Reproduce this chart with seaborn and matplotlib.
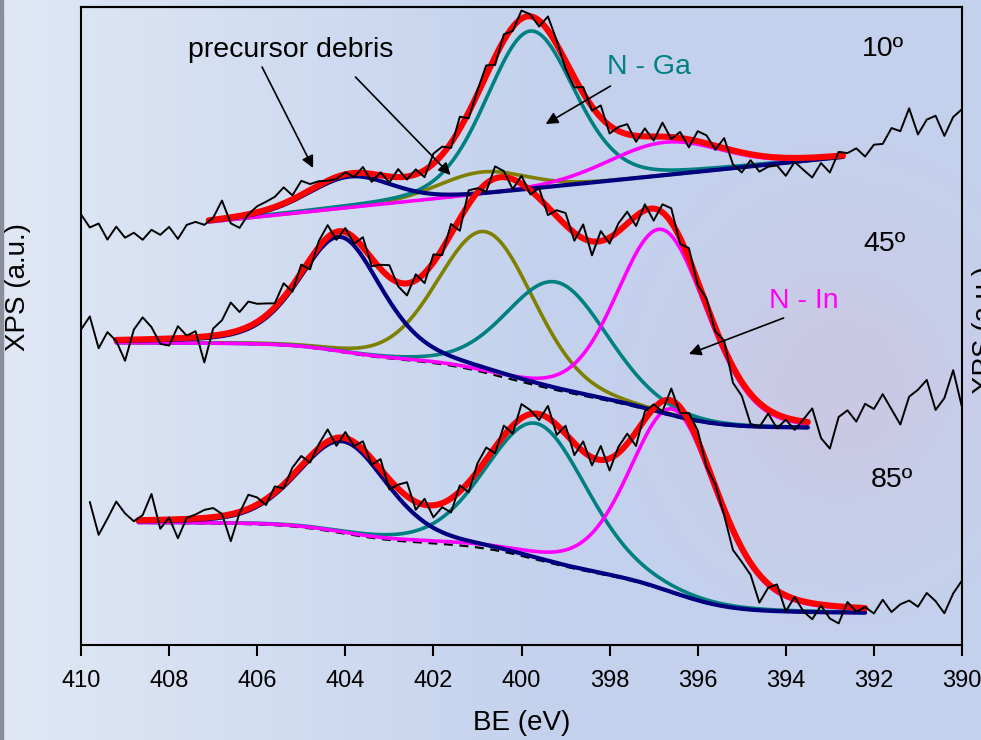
import numpy as np
import matplotlib
matplotlib.use("Agg")
import matplotlib.pyplot as plt
import seaborn as sns

# ---------------- data (y in plot units: pixels above the x axis) ----------------
angle_labels = ["10º", "45º", "85º"]

# fit windows (low-BE end, high-BE end) and background end values (right, left)
fit_lo = [392.7, 393.5, 392.2]
fit_hi = [407.1, 409.2, 408.7]
bg_right = [488, 217, 32]
bg_left = [423, 302, 122]
bg_kind = ["linear", "shirley", "shirley"]

# fitted components: precursor debris (navy), precursor debris (olive), N-Ga (teal), N-In (magenta)
comp_names_10 = ["debris1", "debris2", "NGa", "NIn"]
centers_10 = [403.9, 400.9, 399.8, 396.75]
heights_10 = [31, 22, 158, 33]
fwhm_10 = [2.24, 2.35, 2.35, 3.0]
eta_10 = [0.2, 0.1, 0.2, 0.1]

comp_names_45 = ["debris1", "debris2", "NGa", "NIn"]
centers_45 = [404.1, 400.8, 399.2, 396.8]
heights_45 = [115, 141, 108, 184]
fwhm_45 = [2.2, 2.55, 2.7, 2.4]
eta_45 = [0.4, 0.15, 0.15, 0.15]

comp_names_85 = ["debris1", "NGa", "NIn"]
centers_85 = [404.05, 399.65, 396.55]
heights_85 = [92, 136, 184]
fwhm_85 = [2.4, 2.7, 2.35]
eta_85 = [0.3, 0.2, 0.3]

# measured spectra: start BE (0.2 eV step down to 390) and deviation from the fit
raw_start = [410.0, 410.0, 409.8]
resid_10 = [20, 6, 9, -8, 4, -8, -4, -12, -3, -9, -2, -15, -2, 0, -4,
            2, 18, -6, -12, 0,
            6, 8, 10, 16, 4, 14, 6, 4, 0, -2, 2,
            -4, 6, -8, 3, -6, 8, -3, 5, -7, 10,
            8, -5, 12, -6, 4, 10, -8, 6, -4, 8, 2, -6, 14, 4, -8,
            -10, 6, -4, 12, -8, 4, 10, -6, 8, -4, 14, -2, 6, -8, 10,
            8, -4, 10, -14, -20, -6, -16, -10, -8, -18, -4, -12, -20, -6, -16, 4, 2,
            6, -3, 8, 8, 23, 19, 41, 14, 28, 31, 10, 28, 35]
resid_45 = [11, 24, -8, 8, -1, -21, 10, 22, 12, -5, -7, 12, 2, 6, -26,
            7, 14, 30, 18, 25, 18,
            12, 4, 14, -6, 8, -10, 6, 12, -8, 4,
            -6, 10, -8, 4, 12, -4, -12, 6, -10, 8,
            -6, 10, -12, 14, 4, -8, 12, 6, -10, 8, -4, 10, -8, 6, 12,
            -8, 14, -14, 10, -6, 8, 12, -10, 6, -12, 8, 14, -6, 10, -4,
            6, -4, 8, -16, -14, -30, -24, -4, -14,
            -2, -10, 2, 14, -15, -25, 7,
            14, 3, 21, 16, 31, 16, 1, 29, 36, 46, 16, 28, 56, 19]
resid_85 = [19, -14, 2, 19, 7, -1, 5, 26, -9, 2, -19, 1, 4, 8, 9,
            2, -27, -1, 14, 7, -6,
            6, -4, 8, 10, -6, 4, 12, -8, 6, -4,
            8, -6, 10, -10, 4, 14, -8, 6, -12, -4,
            -14, 6, -10, 8, 12, -6, 10, -8, 14, 4, -6, 12, -10, 8, -12,
            10, -8, 14, -12, 6, 10, -14, 8, 4, -10, 12, -6, 8, 10, -4,
            2, -6, -20, -14, -12, -28, -4, 6, -16, 2, -10,
            -16, -1, -13, -17, 5, -4, 1, -5, 9, -3, 5, 9, 3, 17, 9, -3, 17, 30]

x_ticks = [410, 408, 406, 404, 402, 400, 398, 396, 394, 392, 390]

comp_colors = {"debris1": "#000080", "debris2": "#808000", "NGa": "#008080", "NIn": "#ff00ff"}
comp_z = {"debris2": 3.0, "NGa": 3.1, "NIn": 3.2, "debris1": 3.3}

# ---------------- helpers ----------------
def pv(x, c, h, w, eta):
    u = 4.0 * (x - c) ** 2 / w ** 2
    return h * ((1 - eta) * np.exp(-np.log(2) * u) + eta / (1 + u))


def build(i, centers, heights, fwhms, etas):
    lo, hi = fit_lo[i], fit_hi[i]
    xs = np.linspace(lo, hi, 500)
    comps = [pv(xs, c, h, w, e) for c, h, w, e in zip(centers, heights, fwhms, etas)]
    total = np.sum(comps, axis=0)
    if bg_kind[i] == "shirley":
        cum = np.concatenate([[0], np.cumsum(0.5 * (total[1:] + total[:-1]) * np.diff(xs))])
        frac = cum / cum[-1]
    else:
        frac = (xs - lo) / (hi - lo)
    bg = bg_right[i] + (bg_left[i] - bg_right[i]) * frac
    return xs, bg, comps, bg + total


def bg_anywhere(i, x, xs, bg):
    if bg_kind[i] == "linear":
        lo, hi = fit_lo[i], fit_hi[i]
        return bg_right[i] + (bg_left[i] - bg_right[i]) * (x - lo) / (hi - lo)
    return np.interp(x, xs, bg)


# ---------------- figure ----------------
sns.set_theme(style="ticks")
plt.rcParams["font.family"] = ["Liberation Sans", "DejaVu Sans"]
plt.rcParams["text.color"] = "black"
plt.rcParams["axes.labelcolor"] = "black"
plt.rcParams["xtick.color"] = "black"
plt.rcParams["xtick.labelcolor"] = "black"

fig = plt.figure(figsize=(9.81, 7.40), dpi=100)

# background gradient
bgax = fig.add_axes([0, 0, 1, 1], zorder=-10)
W, H = 200, 150
gx, gy = np.meshgrid(np.linspace(0, 1, W), np.linspace(0, 1, H))
c_left = np.array([224, 232, 245]) / 255
c_mid = np.array([196, 210, 237]) / 255
c_lav = np.array([204, 198, 226]) / 255
s = np.clip(gx / 0.55, 0, 1)[..., None]
img = c_left * (1 - s) + c_mid * s
wblob = (np.exp(-((gx - 0.86) ** 2 / 0.025 + (gy - 0.52) ** 2 / 0.05)) * 0.8)[..., None]
img = img * (1 - wblob) + c_lav * wblob
bgax.imshow(img, aspect="auto", extent=[0, 1, 0, 1], origin="upper")
bgax.set_axis_off()
fig.patches.append(plt.Rectangle((0, 0), 3 / 981, 1, transform=fig.transFigure,
                                 color="#8a8f9b", zorder=-5))

ax = fig.add_axes([81 / 981, 95 / 740, 881 / 981, 638 / 740])
ax.patch.set_alpha(0)

specs = [
    (comp_names_10, centers_10, heights_10, fwhm_10, eta_10, resid_10),
    (comp_names_45, centers_45, heights_45, fwhm_45, eta_45, resid_45),
    (comp_names_85, centers_85, heights_85, fwhm_85, eta_85, resid_85),
]

for i, (names, cen, hei, fw, et, resid) in enumerate(specs):
    xs, bg, comps, env = build(i, cen, hei, fw, et)
    # background
    sns.lineplot(x=xs, y=bg, ax=ax, color="black", lw=1.6, linestyle=(0, (4, 3)),
                 estimator=None, sort=False, zorder=2)
    for name, comp in zip(names, comps):
        lw = 3.0 if name == "debris1" else 2.6
        sns.lineplot(x=xs, y=bg + comp, ax=ax, color=comp_colors[name], lw=lw,
                     estimator=None, sort=False, zorder=comp_z[name])
    sns.lineplot(x=xs, y=env, ax=ax, color="#ff0000", lw=4.4,
                 estimator=None, sort=False, zorder=4)
    rx = np.round(raw_start[i] - 0.2 * np.arange(len(resid)), 2)
    model = bg_anywhere(i, rx, xs, bg) + np.sum(
        [pv(rx, c, h, w, e) for c, h, w, e in zip(cen, hei, fw, et)], axis=0)
    ry = model + np.array(resid)
    sns.lineplot(x=rx, y=ry, ax=ax, color="black", lw=1.4,
                 estimator=None, sort=False, zorder=5)

ax.set_xlim(410, 390)
ax.set_ylim(0, 638)
ax.set_xticks(x_ticks)
ax.set_xticks(np.arange(409, 390, 2), minor=True)
ax.set_yticks([])
ax.tick_params(axis="x", which="major", direction="out", length=8, width=1.5,
               labelsize=17, pad=10, colors="black", labelcolor="black")
ax.tick_params(axis="x", which="minor", direction="out", length=5, width=1.5, colors="black")
for sp in ax.spines.values():
    sp.set_visible(True)
    sp.set_color("black")
    sp.set_linewidth(1.5)
ax.set_xlabel("")
ax.set_ylabel("")

top = ax.secondary_xaxis("top")
top.set_xticks(np.arange(410, 389, 1))
top.tick_params(direction="in", length=3, width=1, labeltop=False, colors="black")
top.spines["top"].set_linewidth(1.5)

# axis titles
fig.text(521.5 / 981, 1 - 723 / 740, "BE (eV)", ha="center", va="center", fontsize=20,
         color="black")
fig.text(18.5 / 981, 1 - 287 / 740, "XPS (a.u.)", ha="center", va="center",
         rotation=90, fontsize=20, color="black")
fig.text(972 / 981, 1 - 330 / 740, "XPS (a.u.)", ha="left", va="center",
         rotation=90, fontsize=20, color="black")

# angle labels
ang_pos = [(391.8, 596), (391.77, 401), (391.6, 165)]
for lab, (xx, yy) in zip(angle_labels, ang_pos):
    ax.text(xx, yy, lab, ha="center", va="center", fontsize=20.5, color="black", zorder=6)

# annotations
ax.text(405.25, 595, "precursor debris", ha="center", va="center", fontsize=20.5,
        color="black", zorder=6)
arrow = dict(arrowstyle="-|>", color="black", lw=1.2, mutation_scale=18, shrinkA=0, shrinkB=0)
ax.annotate("", xy=(404.73, 477), xytext=(405.89, 578), arrowprops=arrow, zorder=6)
ax.annotate("", xy=(401.61, 470), xytext=(403.77, 568), arrowprops=arrow, zorder=6)
ax.text(397.11, 578, "N - Ga", ha="center", va="center", fontsize=20.5, color="#008080", zorder=6)
ax.annotate("", xy=(399.45, 521), xytext=(397.98, 559), arrowprops=arrow, zorder=6)
ax.text(393.6, 344, "N - In", ha="center", va="center", fontsize=20.5, color="#ff00ff", zorder=6)
ax.annotate("", xy=(396.2, 291), xytext=(394.05, 327), arrowprops=arrow, zorder=6)

fig.savefig("out.png", dpi=100)
